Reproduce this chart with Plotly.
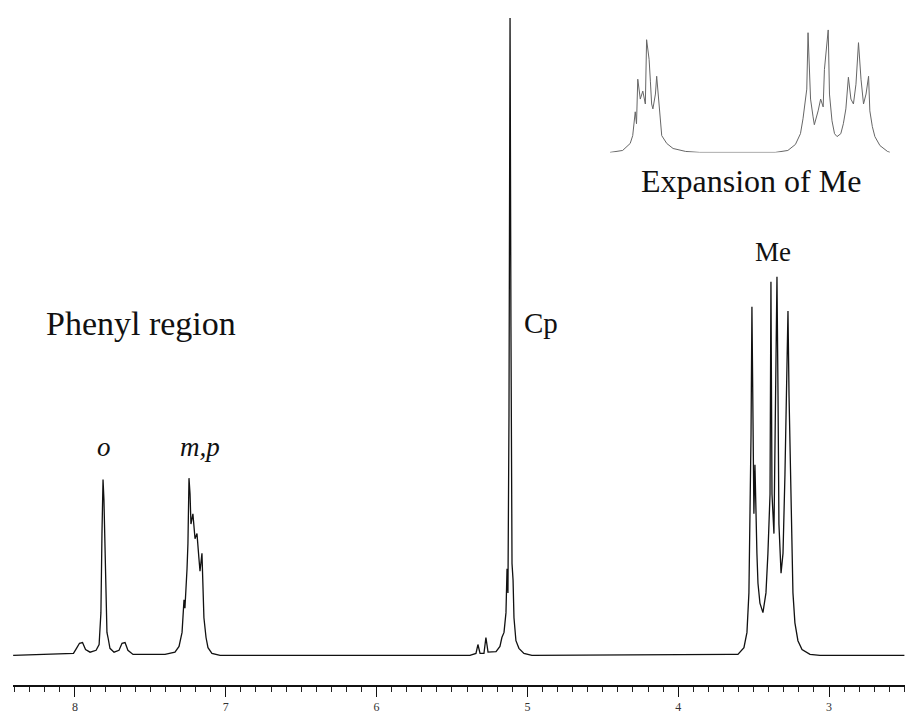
import plotly.graph_objects as go

# Main 1H NMR spectrum (chemical shift in ppm, relative intensity, Cp = 100)
ppm = [8.41, 8.10, 8.01, 7.99, 7.97, 7.95, 7.93, 7.90, 7.86, 7.84, 7.828, 7.821, 7.814, 7.808, 7.801,
       7.794, 7.788, 7.781, 7.768, 7.741, 7.708, 7.688, 7.668, 7.649, 7.615, 7.403, 7.337, 7.310,
       7.290, 7.277, 7.271, 7.257, 7.251, 7.244, 7.237, 7.231, 7.224, 7.218, 7.204, 7.191, 7.178,
       7.171, 7.158, 7.151, 7.145, 7.131, 7.118, 7.092, 7.038,
       5.381, 5.341, 5.328, 5.314, 5.288, 5.275, 5.261, 5.208, 5.182, 5.169, 5.155, 5.142, 5.135,
       5.129, 5.122, 5.115, 5.109, 5.102, 5.095, 5.089, 5.076, 5.056, 5.023, 4.970,
       3.657, 3.604, 3.564, 3.544, 3.531, 3.524, 3.517, 3.511, 3.504, 3.498, 3.491, 3.484, 3.478,
       3.471, 3.458, 3.438, 3.418, 3.405, 3.391, 3.385, 3.378, 3.365, 3.358, 3.345, 3.338, 3.332,
       3.318, 3.305, 3.292, 3.285, 3.272, 3.265, 3.259, 3.252, 3.239, 3.226, 3.206, 3.179, 3.126,
       3.060, 2.50]
intensity = [0, 0.15, 0.3, 1.1, 1.9, 2.0, 0.9, 0.5, 0.8, 1.7, 6.7, 19.1, 27.6, 24.5, 16.0,
             5.1, 3.6, 2.8, 1.1, 0.5, 0.8, 1.9, 2.0, 0.8, 0.15, 0.15, 0.5, 1.4,
             3.6, 8.7, 7.4, 13.6, 17.5, 27.8, 25.3, 20.6, 21.4, 22.2, 18.3, 19.1, 15.2,
             13.2, 16.0, 11.3, 5.9, 2.8, 1.2, 0.3, 0,
             0, 0.3, 1.7, 0.3, 0.3, 2.8, 0.5, 0.6, 1.4, 2.8, 3.6, 6.7, 13.6,
             9.8, 37.7, 100, 51.6, 14.4, 11.8, 5.9, 2.3, 1.1, 0.3, 0,
             0.15, 0.15, 1.2, 3.6, 9.8, 20.6, 34.6, 54.7, 33.0, 22.2, 29.9, 20.6, 16.0,
             11.3, 8.2, 6.7, 9.8, 16.0, 25.3, 58.6, 25.3, 19.1, 33.0, 59.4, 40.8, 20.6,
             12.9, 16.0, 28.4, 37.7, 54.0, 40.8, 33.0, 22.2, 9.8, 5.1, 2.3, 0.9, 0.15,
             0, 0]

# Expansion of the Me region (inset)
ppm_exp = [3.620, 3.610, 3.604, 3.602, 3.600, 3.599, 3.598, 3.596, 3.594, 3.592, 3.591, 3.589,
           3.588, 3.587, 3.586, 3.584, 3.583, 3.581, 3.580, 3.579, 3.575, 3.570, 3.560, 3.549,
           3.489, 3.479, 3.473, 3.469, 3.467, 3.464, 3.463, 3.461, 3.459, 3.458, 3.455, 3.453,
           3.451, 3.450, 3.447, 3.446, 3.444, 3.442, 3.440, 3.437, 3.435, 3.433, 3.431, 3.429,
           3.427, 3.425, 3.423, 3.421, 3.419, 3.417, 3.415, 3.414, 3.412, 3.410, 3.406, 3.400, 3.398]
int_exp = [0, 1.6, 7.3, 13.7, 33.1, 23.4, 59.7, 43.5, 50, 39.5, 91.9, 75.8,
           58.1, 39.5, 35.5, 47.6, 62.1, 39.5, 25.8, 13.7, 7.3, 3.2, 0.8, 0,
           0, 1.6, 6.5, 15.3, 27.4, 51.6, 97.6, 43.5, 29.0, 22.6, 33.9, 43.5,
           37.1, 67.7, 100, 47.6, 25.8, 15.3, 12.9, 15.3, 23.4, 35.5, 61.3, 43.5,
           39.5, 55.6, 89.5, 59.7, 39.5, 47.6, 62.1, 33.9, 21.0, 12.9, 5.6, 0.8, 0]

tick_vals = [8, 7, 6, 5, 4, 3]
tick_text = ["8", "7", "6", "5", "4", "3"]

# Labels: (text, ppm, intensity, size, italic)
labels = [
    ("Phenyl region", 7.56, 52.1, 34, False),
    ("o", 7.808, 32.7, 27, True),
    ("m,p", 7.171, 32.7, 27, True),
    ("Cp", 4.910, 52.2, 29, False),
    ("Me", 3.371, 63.3, 27, False),
    ("Expansion of Me", 3.515, 74.4, 32, False),
]

SERIF = "Liberation Serif, Times New Roman, serif"

fig = go.Figure()
fig.add_trace(go.Scatter(x=ppm, y=intensity, mode="lines",
                         line=dict(color="#111111", width=1.3), showlegend=False,
                         hoverinfo="skip"))
fig.add_trace(go.Scatter(x=ppm_exp, y=int_exp, mode="lines", xaxis="x2", yaxis="y2",
                         line=dict(color="#666666", width=1), showlegend=False,
                         hoverinfo="skip"))

for text, xv, yv, size, italic in labels:
    t = f"<i>{text}</i>" if italic else text
    fig.add_annotation(x=xv, y=yv, xref="x", yref="y", text=t, showarrow=False,
                       font=dict(family=SERIF, size=size, color="#111111"),
                       xanchor="center", yanchor="middle")

fig.update_layout(
    width=913, height=722,
    margin=dict(l=13, r=8, t=10, b=29),
    paper_bgcolor="white", plot_bgcolor="white",
    xaxis=dict(range=[8.411, 2.496], showgrid=False, zeroline=False,
               showline=True, linecolor="#111111", linewidth=2,
               ticks="outside", ticklen=10, tickwidth=1.2, tickcolor="#111111",
               tickvals=tick_vals, ticktext=tick_text,
               tickfont=dict(family=SERIF, size=12, color="#333333"),
               minor=dict(dtick=0.1, tick0=0, ticks="outside", ticklen=5,
                          tickwidth=1, tickcolor="#222222", showgrid=False)),
    yaxis=dict(range=[-4.651, 101.24], visible=False, showgrid=False, zeroline=False),
    xaxis2=dict(domain=[0.6693, 0.9832], range=[3.62, 3.398], visible=False,
                anchor="y2", showgrid=False, zeroline=False),
    yaxis2=dict(domain=[0.789, 0.9707], range=[0, 100], visible=False,
                anchor="x2", showgrid=False, zeroline=False),
)

fig.write_html("out.html")
